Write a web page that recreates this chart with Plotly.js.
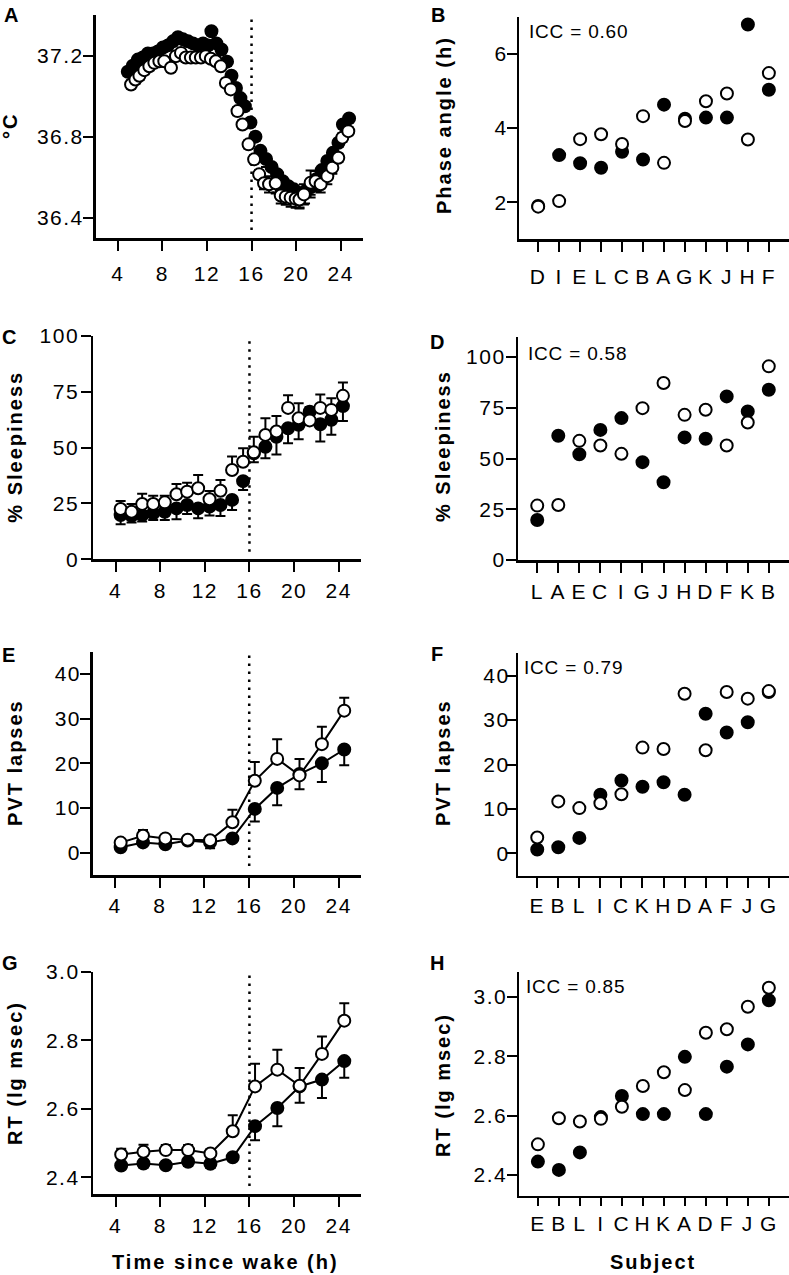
<!DOCTYPE html>
<html><head><meta charset="utf-8">
<script src="https://cdn.plot.ly/plotly-3.0.1.min.js"></script>
<style>
html,body{margin:0;padding:0;background:#fff;}
#chart{width:789px;height:1275px;}
g[class$="tick"] text{letter-spacing:1.5px;}
.annotation .annotation-text{letter-spacing:2px;}
.annotation[data-index="0"] .annotation-text,
.annotation[data-index="1"] .annotation-text,
.annotation[data-index="2"] .annotation-text,
.annotation[data-index="3"] .annotation-text{letter-spacing:0.8px;}
</style>
</head><body><div id="chart"></div>
<script>
// ---------- DATA ----------
const aOpenT = [5.19,5.58,5.94,6.38,6.83,7.28,7.73,8.17,8.77,9.22,9.67,10.10,10.56,11.00,11.46,11.90,12.35,12.80,13.25,13.70,14.14,14.74,15.19,15.73,16.23,16.68,17.12,17.57,18.17,18.62,19.07,19.51,19.96,20.30,20.70,21.30,21.75,22.20,22.80,23.25,23.78,24.14,24.68];
const aOpenV = [37.057,37.082,37.100,37.128,37.147,37.164,37.172,37.172,37.140,37.197,37.213,37.190,37.190,37.190,37.190,37.197,37.184,37.172,37.147,37.065,37.033,36.926,36.860,36.762,36.688,36.614,36.570,36.565,36.570,36.510,36.504,36.499,36.494,36.490,36.515,36.573,36.580,36.565,36.605,36.647,36.696,36.795,36.827];
const aOpenErr = [0.02,0.02,0.02,0.02,0.02,0.02,0.02,0.02,0.02,0.02,0.02,0.02,0.02,0.02,0.02,0.02,0.02,0.02,0.02,0.02,0.02,0.02,0.02,0.02,0.02,0.02,0.03,0.04,0.05,0.04,0.04,0.045,0.045,0.045,0.05,0.06,0.05,0.04,0.04,0.03,0.02,0.02,0.02];
const aFillT = [4.90,5.35,5.80,6.25,6.70,7.15,7.60,8.05,8.50,8.95,9.40,9.85,10.30,10.75,11.20,11.65,12.10,12.40,12.85,13.30,13.80,14.20,14.60,15.00,15.40,15.90,16.35,16.80,17.30,17.80,18.30,18.80,19.30,19.80,20.30,20.80,21.30,21.80,22.30,22.80,23.30,23.80,24.20,24.75];
const aFillV = [37.12,37.15,37.18,37.19,37.21,37.21,37.22,37.24,37.25,37.27,37.29,37.28,37.27,37.26,37.25,37.26,37.25,37.32,37.26,37.23,37.17,37.10,37.04,36.99,36.95,36.87,36.80,36.73,36.69,36.65,36.615,36.58,36.555,36.54,36.52,36.53,36.55,36.59,36.635,36.68,36.72,36.77,36.86,36.89];
const aFillErr = [0.02,0.02,0.02,0.02,0.02,0.02,0.02,0.02,0.02,0.02,0.02,0.02,0.02,0.02,0.02,0.02,0.02,0.02,0.02,0.02,0.02,0.02,0.02,0.02,0.02,0.02,0.02,0.03,0.04,0.06,0.09,0.05,0.05,0.06,0.07,0.06,0.05,0.06,0.05,0.04,0.03,0.02,0.02,0.02];

const bSubjects = ['D','I','E','L','C','B','A','G','K','J','H','F'];
const bFilled = [1.90,3.27,3.05,2.93,3.36,3.15,4.63,4.25,4.28,4.28,6.79,5.03];
const bOpen   = [1.88,2.03,3.70,3.83,3.57,4.32,3.06,4.19,4.72,4.93,3.69,5.48];
const bICC = 'ICC = 0.60';

const cT = [4.45,5.43,6.38,7.37,8.41,9.46,10.41,11.40,12.42,13.40,14.44,15.43,16.39,17.43,18.42,19.46,20.41,21.40,22.35,23.34,24.38];
const cOpen = [22.5,21.3,24.8,24.8,25.5,29.1,30.3,31.8,26.9,30.7,40.0,43.7,47.9,55.7,57.2,67.8,63.2,62.2,67.8,66.9,73.2];
const cOpenErr = [3.6,3.5,4.5,3.7,3.0,4.6,4.0,6.0,3.7,4.8,6.0,6.0,7.0,7.5,7.0,5.7,6.7,6.0,6.0,5.2,6.0];
const cFill = [19.8,19.5,19.8,20.6,21.3,22.8,24.3,22.8,23.6,24.3,26.6,35.0,47.5,50.4,54.9,58.7,60.2,66.1,60.5,62.5,68.6];
const cFillErr = [4.1,3.0,2.9,3.0,3.7,4.9,4.0,4.4,4.0,4.9,4.5,4.0,4.0,5.2,8.0,6.7,6.4,6.0,7.8,6.7,6.7];

const dSubjects = ['L','A','E','C','I','G','J','H','D','F','K','B'];
const dFilled = [19.7,61.2,52.1,64.1,69.9,48.2,38.3,60.4,59.7,80.6,73.2,83.9];
const dOpen   = [26.8,27.1,58.7,56.4,52.3,74.8,87.2,71.5,74.0,56.4,67.7,95.4];
const dICC = 'ICC = 0.58';

const eT = [4.5,6.5,8.5,10.5,12.5,14.5,16.5,18.5,20.5,22.5,24.5];
const eOpen = [2.25,3.8,3.2,2.9,2.8,6.8,16.1,21.0,17.3,24.3,31.8];
const eOpenErr = [0.6,1.3,0.6,0.5,0.6,2.8,4.2,4.4,3.7,3.9,2.9];
const eFill = [1.2,2.3,1.9,2.7,2.3,3.2,9.8,14.5,17.6,20.0,23.1];
const eFillErr = [0.4,0.6,0.5,0.5,1.3,0.6,2.8,3.9,3.4,4.2,3.5];

const fSubjects = ['E','B','L','I','C','K','H','D','A','F','J','G'];
const fFilled = [0.9,1.4,3.5,13.2,16.4,15.0,16.0,13.2,31.4,27.2,29.5,36.3];
const fOpen   = [3.6,11.7,10.2,11.3,13.3,23.8,23.5,35.9,23.2,36.3,34.8,36.5];
const fICC = 'ICC = 0.79';

const gT = [4.5,6.5,8.5,10.5,12.5,14.5,16.5,18.5,20.5,22.5,24.5];
const gOpen = [2.466,2.474,2.479,2.479,2.469,2.534,2.665,2.714,2.667,2.760,2.857];
const gOpenErr = [0.017,0.021,0.015,0.015,0.012,0.047,0.066,0.058,0.052,0.051,0.051];
const gFill = [2.434,2.440,2.435,2.445,2.439,2.458,2.549,2.602,2.665,2.685,2.739];
const gFillErr = [0.010,0.012,0.010,0.012,0.012,0.010,0.041,0.053,0.048,0.054,0.049];

const hSubjects = ['E','B','L','I','C','H','K','A','D','F','J','G'];
const hFilled = [2.445,2.417,2.476,2.595,2.666,2.605,2.605,2.798,2.605,2.765,2.840,2.989];
const hOpen   = [2.503,2.591,2.580,2.589,2.630,2.700,2.746,2.686,2.879,2.891,2.967,3.031];
const hICC = 'ICC = 0.85';

const panelLetters = ['A','B','C','D','E','F','G','H'];
const yTitles = ['°C','Phase angle (h)','% Sleepiness','% Sleepiness','PVT lapses','PVT lapses','RT (lg msec)','RT (lg msec)'];
const xTitleLeft = 'Time since wake (h)';
const xTitleRight = 'Subject';
const wakeRef = 16;

// ---------- STYLE / LAYOUT ----------
const W = 789, H = 1275;
const FONT = 'Liberation Sans, Arial, Helvetica, sans-serif';
const MS = 12, MLW = 2;
const zeros = n => new Array(n).fill(0);
function px(x){ return x / W; }
function py(y){ return 1 - y / H; }

const boxes = [
  [95.5, 363, 15, 238],
  [519.3, 789, 16.7, 239.3],
  [93.3, 361, 336, 559.3],
  [518.3, 789, 336.7, 560],
  [92.7, 361, 651.7, 875],
  [518.3, 789, 653.3, 875.7],
  [93.3, 361, 971.7, 1194.3],
  [519, 789, 971.7, 1195.7]
];
const xStandoff = [5, 7, 1, 1, 0, 0, 1, 0];
const xTickLen = [10, 10, 10, 10, 10, 10, 10, 8];
const yLabelNudge = [5, 5, 2.5, 4, 5, 8, 3, 5];

const traces = [];
function pair(i, xs1, ys1, xs2, ys2, opts){
  const ax = i === 0 ? '' : String(i + 1);
  const mode = opts.lines ? 'lines+markers' : 'markers';
  const filled = {
    x: xs1, y: ys1, xaxis: 'x' + ax, yaxis: 'y' + ax, mode: mode, type: 'scatter',
    marker: {symbol: 'circle', size: MS, color: '#000', line: {color: '#000', width: MLW}},
    line: {color: '#000', width: 2}, cliponaxis: false, hoverinfo: 'skip'
  };
  if (opts.fillErr) filled.error_y = {type: 'data', symmetric: false, array: zeros(opts.fillErr.length), arrayminus: opts.fillErr, color: '#000', thickness: 2, width: 5};
  const open = {
    x: xs2, y: ys2, xaxis: 'x' + ax, yaxis: 'y' + ax, mode: mode, type: 'scatter',
    marker: {symbol: 'circle', size: MS, color: '#fff', line: {color: '#000', width: MLW}},
    line: {color: '#000', width: 2}, cliponaxis: false, hoverinfo: 'skip'
  };
  if (opts.openErr) open.error_y = opts.openSym
    ? {type: 'data', symmetric: true, array: opts.openErr, color: '#000', thickness: 2, width: 5}
    : {type: 'data', symmetric: false, array: opts.openErr, arrayminus: zeros(opts.openErr.length), color: '#000', thickness: 2, width: 5};
  traces.push(filled, open);
}
pair(0, aFillT, aFillV, aOpenT, aOpenV, {fillErr: aFillErr, openErr: aOpenErr, openSym: true});
pair(1, bSubjects, bFilled, bSubjects, bOpen, {});
pair(2, cT, cFill, cT, cOpen, {fillErr: cFillErr, openErr: cOpenErr});
pair(3, dSubjects, dFilled, dSubjects, dOpen, {});
pair(4, eT, eFill, eT, eOpen, {lines: true, fillErr: eFillErr, openErr: eOpenErr});
pair(5, fSubjects, fFilled, fSubjects, fOpen, {});
pair(6, gT, gFill, gT, gOpen, {lines: true, fillErr: gFillErr, openErr: gOpenErr});
pair(7, hSubjects, hFilled, hSubjects, hOpen, {});

const tickFont = {family: FONT, size: 21, color: '#000'};
function xAxis(i, cats){
  const b = boxes[i];
  const a = {
    domain: [px(b[0]), px(b[1])], anchor: 'y' + (i === 0 ? '' : i + 1),
    showline: true, linewidth: 2.5, linecolor: '#000',
    showgrid: false, zeroline: false, ticks: 'outside', ticklen: xTickLen[i], tickwidth: 2, tickcolor: '#000',
    tickfont: tickFont, fixedrange: true, ticklabelstandoff: xStandoff[i]
  };
  if (cats) {
    a.type = 'category'; a.categoryorder = 'array'; a.categoryarray = cats;
    a.tickvals = cats; a.ticktext = cats; a.range = [-0.9, 11.96];
  } else {
    a.range = [2, 26]; a.tickmode = 'linear'; a.tick0 = 4; a.dtick = 4;
  }
  return a;
}
function yAxis(i, cfg){
  const b = boxes[i];
  return {
    domain: [py(b[3]), py(b[2])], anchor: 'x' + (i === 0 ? '' : i + 1),
    range: cfg.range, tickmode: 'linear', tick0: cfg.tick0, dtick: cfg.dtick, tickformat: cfg.fmt || '',
    showline: true, linewidth: 2.5, linecolor: '#000',
    showgrid: false, zeroline: false, ticks: 'outside', ticklen: 10, tickwidth: 2, tickcolor: '#000',
    tickfont: tickFont, fixedrange: true
  };
}

const layout = {
  width: W, height: H, margin: {l: 0, r: 0, t: 0, b: 0},
  paper_bgcolor: '#fff', plot_bgcolor: 'rgba(0,0,0,0)', showlegend: false,
  font: {family: FONT, color: '#000'},
  xaxis:  xAxis(0),
  xaxis2: xAxis(1, bSubjects),
  xaxis3: xAxis(2),
  xaxis4: xAxis(3, dSubjects),
  xaxis5: xAxis(4),
  xaxis6: xAxis(5, fSubjects),
  xaxis7: xAxis(6),
  xaxis8: xAxis(7, hSubjects),
  yaxis:  yAxis(0, {range: [36.3, 37.4], tick0: 36.4, dtick: 0.4, fmt: '.1f'}),
  yaxis2: yAxis(1, {range: [1, 7], tick0: 2, dtick: 2}),
  yaxis3: yAxis(2, {range: [0, 100], tick0: 0, dtick: 25}),
  yaxis4: yAxis(3, {range: [0, 110], tick0: 0, dtick: 25}),
  yaxis5: yAxis(4, {range: [-5, 45], tick0: 0, dtick: 10}),
  yaxis6: yAxis(5, {range: [-5, 45], tick0: 0, dtick: 10}),
  yaxis7: yAxis(6, {range: [2.35, 3.0], tick0: 2.4, dtick: 0.2, fmt: '.1f'}),
  yaxis8: yAxis(7, {range: [2.33, 3.085], tick0: 2.4, dtick: 0.2, fmt: '.1f'}),
  shapes: [], annotations: []
};

const dotSpans = [[0, 36.34, 37.39], [2, 3.4, 98.7], [4, -3, 44.5], [6, 2.374, 2.99]];
dotSpans.forEach(s => {
  const ax = s[0] === 0 ? '' : String(s[0] + 1);
  layout.shapes.push({type: 'line', xref: 'x' + ax, yref: 'y' + ax, x0: wakeRef, x1: wakeRef, y0: s[1], y1: s[2],
    line: {color: '#000', width: 2.5, dash: '2.5px,5.5px'}, layer: 'below'});
});

const iccTexts = [bICC, dICC, fICC, hICC];
const iccPos = [[530.5, 31.5], [529.5, 353.5], [526, 667], [528, 986]];
iccTexts.forEach((t, k) => layout.annotations.push({
  text: t, xref: 'paper', yref: 'paper', x: px(iccPos[k][0]), y: py(iccPos[k][1]),
  xanchor: 'left', yanchor: 'middle', showarrow: false, font: {family: FONT, size: 19, color: '#000'}
}));
const letterPos = [[11.5, 15], [439, 15], [10, 337.5], [438, 341.7], [9, 655], [437.7, 654], [11, 963], [438.3, 963]];
panelLetters.forEach((t, k) => layout.annotations.push({
  text: '<b>' + t + '</b>', xref: 'paper', yref: 'paper', x: px(letterPos[k][0]), y: py(letterPos[k][1]),
  xanchor: 'center', yanchor: 'middle', showarrow: false, font: {family: FONT, size: 20, color: '#000'}
}));
const yTitlePos = [[10, 126], [444, 125], [15, 446.7], [443, 446], [15, 763], [443, 763], [15, 1073], [443, 1085]];
yTitles.forEach((t, k) => layout.annotations.push({
  text: '<b>' + t + '</b>', xref: 'paper', yref: 'paper', x: px(yTitlePos[k][0]), y: py(yTitlePos[k][1]),
  xanchor: 'center', yanchor: 'middle', textangle: -90, showarrow: false, font: {family: FONT, size: 20, color: '#000'}
}));
layout.annotations.push({text: '<b>' + xTitleLeft + '</b>', xref: 'paper', yref: 'paper', x: px(225), y: py(1261.5),
  xanchor: 'center', yanchor: 'middle', showarrow: false, font: {family: FONT, size: 20, color: '#000'}});
layout.annotations.push({text: '<b>' + xTitleRight + '</b>', xref: 'paper', yref: 'paper', x: px(653), y: py(1261.5),
  xanchor: 'center', yanchor: 'middle', showarrow: false, font: {family: FONT, size: 20, color: '#000'}});

Plotly.newPlot('chart', traces, layout, {staticPlot: true, displayModeBar: false}).then(() => {
  // nudge y tick labels closer to their axis
  yLabelNudge.forEach((d, i) => {
    const id = 'y' + (i === 0 ? '' : i + 1);
    document.querySelectorAll('g.' + id + 'tick text').forEach(t => {
      const x = parseFloat(t.getAttribute('x')) || 0;
      t.setAttribute('x', x + d);
    });
  });
});
</script>
</body></html>
